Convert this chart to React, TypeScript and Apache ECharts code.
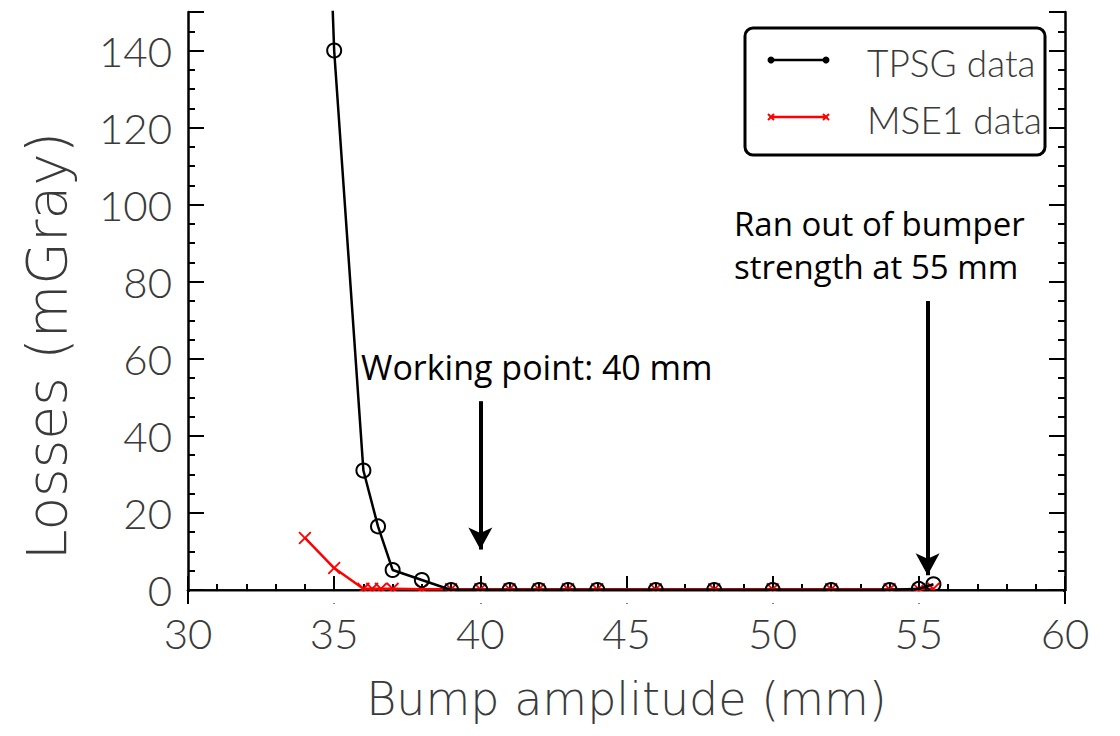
import React, { useEffect, useRef } from "react";
import * as echarts from "echarts";

const tpsgX = [34, 35, 36, 36.5, 37, 38, 39, 40, 41, 42, 43, 44, 46, 48, 50, 52, 54, 55, 55.5];
const tpsgY = [350, 140, 31, 16.5, 5.2, 2.6, 0, 0, 0, 0, 0, 0, 0, 0, 0, 0, 0, 0.3, 1.5];
const mseX = [34, 35, 36, 36.3, 36.6, 37, 38, 39, 40, 41, 42, 43, 44, 46, 48, 50, 52, 54, 55, 55.5];
const mseY = [13.5, 5.7, 0.3, 0.3, 0.3, 0.3, 0.2, 0.2, 0.2, 0.2, 0.2, 0.2, 0.2, 0.2, 0.2, 0.2, 0.2, 0.2, 0.2, 0.3];

const xMin = 30, xMax = 60, xStep = 5;
const yMin = 0, yMax = 150, yStep = 20;

const xTitle = "Bump amplitude (mm)";
const yTitle = "Losses (mGray)";
const annotWork = "Working point: 40 mm";
const annotRan = ["Ran out of bumper", "strength at 55 mm"];
const arrowWork = [[40, 49], [40, 10.5]];
const arrowRan = [[55.3, 75], [55.3, 3.8]];

const TICK_FONT = "'Lato Light', Lato, sans-serif";
const TITLE_FONT = "'DejaVu Sans', sans-serif";
const ANNOT_FONT = "'Open Sans', 'Noto Sans', sans-serif";
const X_SYMBOL = "path://M1,0 L5,4 L9,0 L10,1 L6,5 L10,9 L9,10 L5,6 L1,10 L0,9 L4,5 L0,1 Z";

export default function App() {
  const ref = useRef<HTMLDivElement>(null);
  useEffect(() => {
    if (!ref.current) return;
    const chart = echarts.init(ref.current, undefined, { renderer: "svg" });
    const axisLine = { show: true, lineStyle: { color: "#000", width: 2.5 } };
    const tickX = { show: true, inside: true, length: 14, lineStyle: { color: "#000", width: 2 } };
    const minorX = { show: true, splitNumber: 5, length: 6, lineStyle: { color: "#000", width: 2 } };
    const tickY = { show: true, inside: true, length: 16, lineStyle: { color: "#000", width: 2 } };
    const minorY = { show: true, splitNumber: 4, length: 7, lineStyle: { color: "#000", width: 2 } };
    const labelStyle = { fontFamily: TICK_FONT, fontSize: 42, fontWeight: 300, color: "#3a3a3a" };

    chart.setOption({
      animation: false,
      backgroundColor: "#fff",
      grid: { left: 188, right: 55, top: 12, bottom: 146, containLabel: false },
      xAxis: [
        {
          type: "value", min: xMin, max: xMax, interval: xStep, position: "bottom",
          axisLine, axisTick: tickX, minorTick: minorX,
          splitLine: { show: false },
          axisLabel: { ...labelStyle, margin: 22 },
          name: xTitle, nameLocation: "middle", nameGap: 86,
          nameTextStyle: { fontFamily: TITLE_FONT, fontSize: 46, fontWeight: 200, color: "#3a3a3a" },
        },
        {
          type: "value", min: xMin, max: xMax, interval: xStep, position: "top",
          axisLine, axisTick: tickX, minorTick: minorX,
          splitLine: { show: false }, axisLabel: { show: false },
        },
      ],
      yAxis: [
        {
          type: "value", min: yMin, max: yMax, interval: yStep, position: "left",
          axisLine, axisTick: tickY, minorTick: minorY,
          splitLine: { show: false },
          axisLabel: { ...labelStyle, margin: 16 },
        },
        {
          type: "value", min: yMin, max: yMax, interval: yStep, position: "right",
          axisLine, axisTick: tickY, minorTick: minorY,
          splitLine: { show: false }, axisLabel: { show: false },
        },
      ],
      series: [
        {
          name: "MSE1 data", type: "line", clip: true,
          data: mseX.map((x, i) => [x, mseY[i]]),
          symbol: X_SYMBOL, symbolSize: 13,
          lineStyle: { color: "#ff0000", width: 2.5 },
          itemStyle: { color: "#ff0000" },
          z: 3,
        },
        {
          name: "TPSG data", type: "line", clip: true,
          data: tpsgX.map((x, i) => [x, tpsgY[i]]),
          symbol: "circle", symbolSize: 14,
          lineStyle: { color: "#000", width: 2.5 },
          itemStyle: { color: "rgba(0,0,0,0)", borderColor: "#000", borderWidth: 2 },
          z: 4,
          markLine: {
            silent: true, animation: false,
            symbol: ["none", "arrow"], symbolSize: [18, 22],
            label: { show: false },
            lineStyle: { color: "#000", width: 4, type: "solid" },
            data: [
              [{ coord: arrowWork[0] }, { coord: arrowWork[1] }],
              [{ coord: arrowRan[0] }, { coord: arrowRan[1] }],
            ],
          },
        },
      ],
      graphic: [
        {
          type: "rect", z: 20, silent: true,
          shape: { x: 190, y: 591.6, width: 873, height: 12 },
          style: { fill: "#fff" },
        },
        {
          type: "text", x: 47, y: 346, rotation: Math.PI / 2, z: 50,
          style: { text: yTitle, fontFamily: TITLE_FONT, fontWeight: 200, fontSize: 55, fill: "#3a3a3a", align: "center", verticalAlign: "middle" },
        },
        {
          type: "text", left: 361, top: 350, z: 50,
          style: { text: annotWork, fontFamily: ANNOT_FONT, fontSize: 34, fill: "#000" },
        },
        {
          type: "text", left: 734, top: 202, z: 50,
          style: { text: annotRan.join("\n"), lineHeight: 43, fontFamily: ANNOT_FONT, fontSize: 33, fill: "#000" },
        },
        {
          type: "group", z: 60,
          children: [
            { type: "rect", shape: { x: 745, y: 28, width: 300, height: 127, r: 8 }, style: { fill: "#fff", stroke: "#000", lineWidth: 3 }, z: 60 },
            { type: "line", shape: { x1: 771, y1: 60, x2: 826, y2: 60 }, style: { stroke: "#000", lineWidth: 2.5 }, z: 61 },
            { type: "circle", shape: { cx: 771, cy: 60, r: 3.5 }, style: { fill: "#000" }, z: 61 },
            { type: "circle", shape: { cx: 826, cy: 60, r: 3.5 }, style: { fill: "#000" }, z: 61 },
            { type: "text", x: 867, y: 62, z: 61, style: { text: "TPSG data", fontFamily: TICK_FONT, fontWeight: 300, fontSize: 37, fill: "#3a3a3a", verticalAlign: "middle" } },
            { type: "line", shape: { x1: 771, y1: 117, x2: 826, y2: 117 }, style: { stroke: "#ff0000", lineWidth: 2.5 }, z: 61 },
            { type: "line", shape: { x1: 768, y1: 114, x2: 774, y2: 120 }, style: { stroke: "#ff0000", lineWidth: 2 }, z: 61 },
            { type: "line", shape: { x1: 768, y1: 120, x2: 774, y2: 114 }, style: { stroke: "#ff0000", lineWidth: 2 }, z: 61 },
            { type: "line", shape: { x1: 823, y1: 114, x2: 829, y2: 120 }, style: { stroke: "#ff0000", lineWidth: 2 }, z: 61 },
            { type: "line", shape: { x1: 823, y1: 120, x2: 829, y2: 114 }, style: { stroke: "#ff0000", lineWidth: 2 }, z: 61 },
            { type: "text", x: 867, y: 119, z: 61, style: { text: "MSE1 data", fontFamily: TICK_FONT, fontWeight: 300, fontSize: 37, fill: "#3a3a3a", verticalAlign: "middle" } },
          ],
        },
      ],
    });
    return () => chart.dispose();
  }, []);
  return (
    <div
      ref={ref}
      style={{ position: "fixed", left: 0, top: 0, width: 1120, height: 736, background: "#fff" }}
    />
  );
}
